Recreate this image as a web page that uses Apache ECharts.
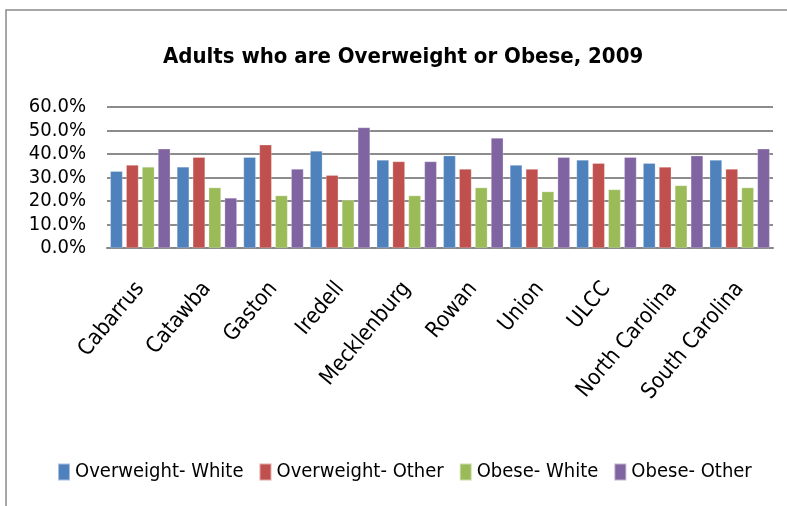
<!DOCTYPE html>
<html>
<head>
<meta charset="utf-8">
<script src="https://cdn.jsdelivr.net/npm/echarts@6/dist/echarts.min.js"></script>
<style>html,body{margin:0;padding:0;background:#fff}#c{width:787px;height:506px}</style>
</head>
<body>
<div id="c"></div>
<script>
const categories = ['Cabarrus','Catawba','Gaston','Iredell','Mecklenburg','Rowan','Union','ULCC','North Carolina','South Carolina'];
const seriesNames = ['Overweight- White','Overweight- Other','Obese- White','Obese- Other'];
const overweightWhite = [32.7,34.5,38.6,41.3,37.5,39.3,35.3,37.5,36.1,37.5];
const overweightOther = [35.3,38.6,43.9,31.0,36.8,33.6,33.6,36.1,34.5,33.6];
const obeseWhite = [34.5,25.7,22.3,20.4,22.3,25.7,24.0,24.9,26.6,25.7];
const obeseOther = [42.2,21.3,33.6,51.3,36.8,46.8,38.6,38.6,39.3,42.2];
const colors = ['#4F81BD','#C0504D','#9BBB59','#8064A2'];
const FONT = "'Liberation Sans Narrow','DejaVu Sans Condensed','Open Sans',sans-serif";

const chart = echarts.init(document.getElementById('c'), null, {renderer:'canvas'});
const dataSets = [overweightWhite, overweightOther, obeseWhite, obeseOther];
chart.setOption({
  animation:false,
  backgroundColor:'#fff',
  graphic:[{type:'rect',shape:{x:6,y:10,width:900,height:700},style:{fill:'none',stroke:'#8a8a8a',lineWidth:1.5},silent:true}],
  title:{text:'Adults who are Overweight or Obese, 2009',left:158,top:41,
    textStyle:{fontFamily:FONT,fontWeight:'bold',fontSize:22,color:'#000'}},
  legend:{bottom:19,left:52,itemWidth:12,itemHeight:17,itemGap:15,icon:'rect',
    textStyle:{fontFamily:FONT,fontSize:20,color:'#000'}, data:seriesNames},
  grid:{left:107,right:14,top:107,bottom:258,containLabel:false},
  xAxis:{type:'category',data:categories,
    axisLine:{lineStyle:{color:'#868686',width:2}},axisTick:{show:false},
    axisLabel:{rotate:50,margin:37,fontFamily:FONT,fontSize:22,color:'#000',interval:0}},
  yAxis:{type:'value',min:0,max:60,interval:10,
    axisLine:{show:false},axisTick:{show:false},
    splitLine:{lineStyle:{color:'#8c8c8c',width:2}},
    axisLabel:{margin:21,fontFamily:FONT,fontSize:20,color:'#000',formatter:v=>v.toFixed(1)+'%'}},
  series: dataSets.map((d,i)=>({name:seriesNames[i],type:'bar',data:d,
    barGap:'30%',barCategoryGap:'10%',
    itemStyle:{color:colors[i],borderColor:'rgba(255,255,255,0.5)',borderWidth:0.5}}))
});
</script>
</body>
</html>
